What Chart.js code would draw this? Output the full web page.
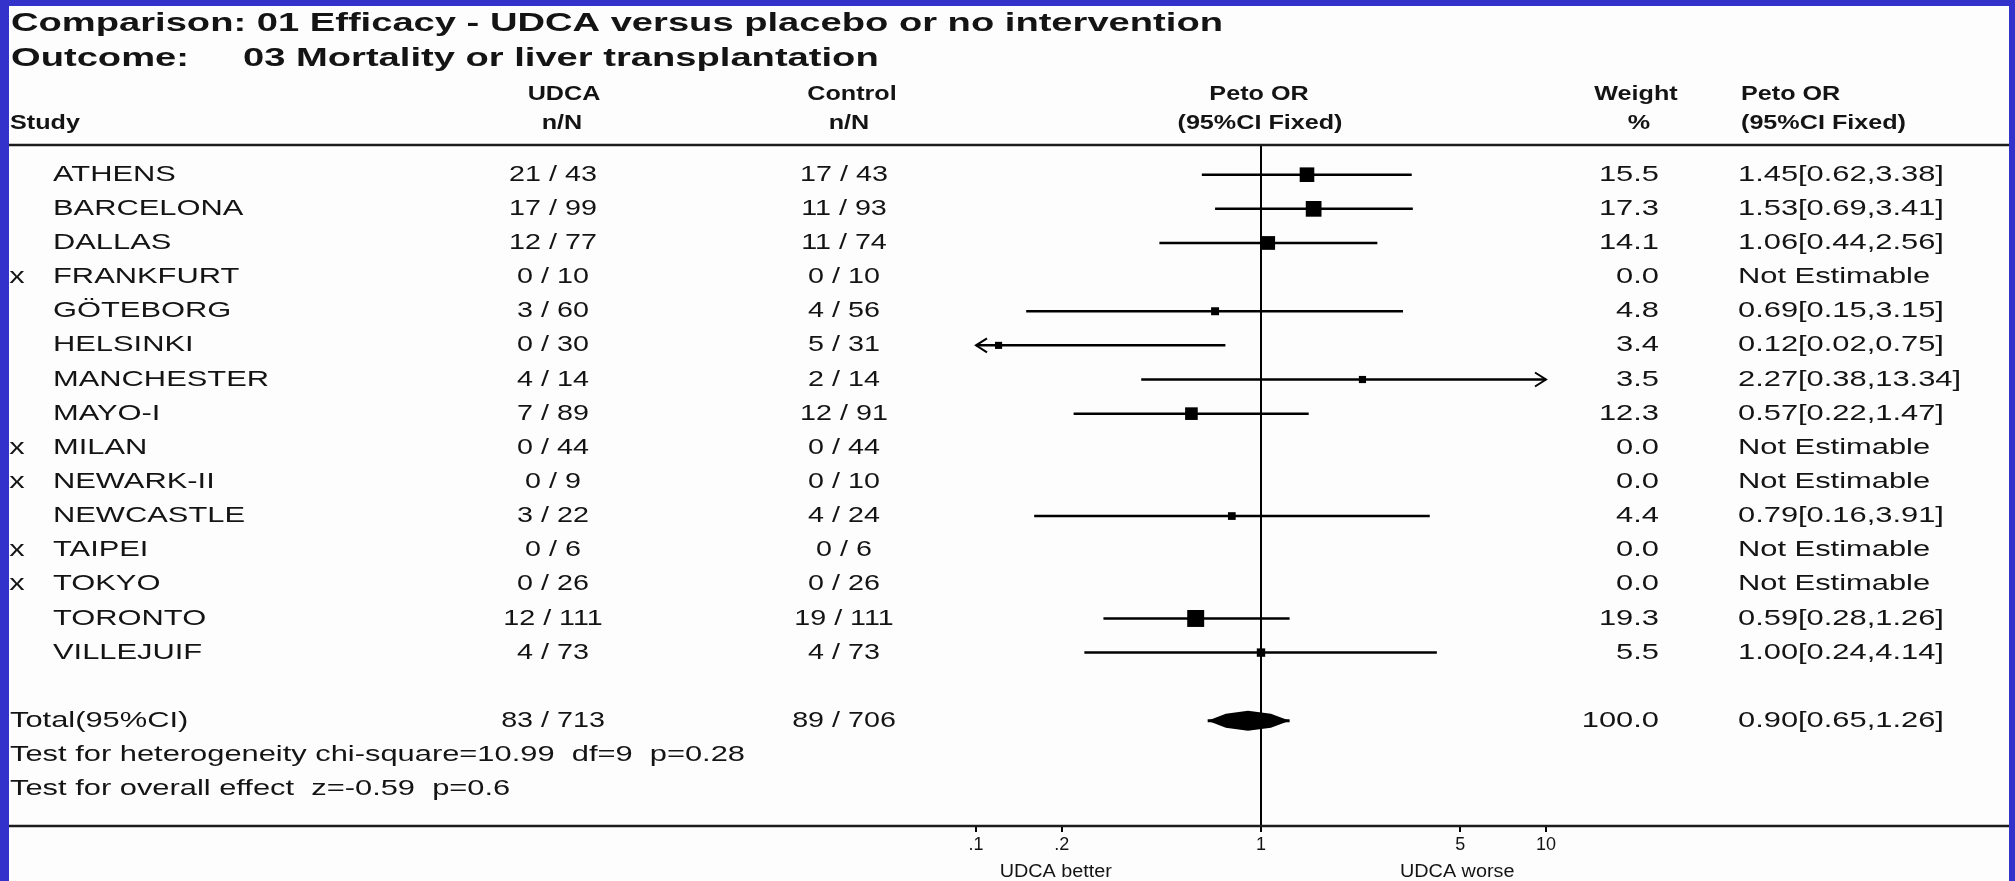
<!DOCTYPE html>
<html>
<head>
<meta charset="utf-8">
<title>UDCA versus placebo – mortality or liver transplantation</title>
<script src="https://cdn.jsdelivr.net/npm/chart.js@4.4.1/dist/chart.umd.min.js"></script>
<style>
  html, body { margin: 0; padding: 0; background: #3333cc; overflow: hidden; }
  canvas { display: block; }
</style>
</head>
<body>
<canvas id="forest" width="2015" height="881"></canvas>
<script>
// ---- study data ----
const studies = ['ATHENS', 'BARCELONA', 'DALLAS', 'FRANKFURT', 'GÖTEBORG', 'HELSINKI', 'MANCHESTER',
  'MAYO-I', 'MILAN', 'NEWARK-II', 'NEWCASTLE', 'TAIPEI', 'TOKYO', 'TORONTO', 'VILLEJUIF'];
const notEstimable = [false, false, false, true, false, false, false, false, true, true, false, true, true, false, false];
const udcaEvents = [21, 17, 12, 0, 3, 0, 4, 7, 0, 0, 3, 0, 0, 12, 4];
const udcaTotals = [43, 99, 77, 10, 60, 30, 14, 89, 44, 9, 22, 6, 26, 111, 73];
const controlEvents = [17, 11, 11, 0, 4, 5, 2, 12, 0, 0, 4, 0, 0, 19, 4];
const controlTotals = [43, 93, 74, 10, 56, 31, 14, 91, 44, 10, 24, 6, 26, 111, 73];
const weights = [15.5, 17.3, 14.1, 0.0, 4.8, 3.4, 3.5, 12.3, 0.0, 0.0, 4.4, 0.0, 0.0, 19.3, 5.5];
const petoOR = [1.45, 1.53, 1.06, null, 0.69, 0.12, 2.27, 0.57, null, null, 0.79, null, null, 0.59, 1.00];
const ciLower = [0.62, 0.69, 0.44, null, 0.15, 0.02, 0.38, 0.22, null, null, 0.16, null, null, 0.28, 0.24];
const ciUpper = [3.38, 3.41, 2.56, null, 3.15, 0.75, 13.34, 1.47, null, null, 3.91, null, null, 1.26, 4.14];

// ---- pooled result ----
const totalUdca = [83, 713];
const totalControl = [89, 706];
const totalWeight = 100.0;
const totalOR = [0.90, 0.65, 1.26]; // estimate, lower, upper
const heterogeneityText = 'Test for heterogeneity chi-square=10.99  df=9  p=0.28';
const overallEffectText = 'Test for overall effect  z=-0.59  p=0.6';

// ---- axis ----
const axisTicks = [0.1, 0.2, 1, 5, 10];
const axisTickLabels = ['.1', '.2', '1', '5', '10'];
const axisRange = [0.1, 10];

// ---- row positions (one row per study, then a gap, then the summary rows) ----
const totalRow = studies.length + 1;
const heterogeneityRow = totalRow + 1;
const overallRow = totalRow + 2;

// ---- fonts / colours ----
const INK = '#141414';
const TITLE_FONT = 'bold 26px "Liberation Sans", Arial, sans-serif';
const HEAD_FONT = 'bold 21px "Liberation Sans", Arial, sans-serif';
const BODY_FONT = '22px "Liberation Sans", Arial, sans-serif';
const AXIS_FONT_SIZE = 18;

function widthOf(ctx, font, str) {
  ctx.save(); ctx.font = font; const w = ctx.measureText(str).width; ctx.restore(); return w;
}
// draws text stretched horizontally by sx (the lettering is wide and low)
function text(ctx, str, x, y, font, align, sx) {
  ctx.save();
  ctx.font = font;
  ctx.fillStyle = INK;
  ctx.textAlign = align || 'left';
  ctx.textBaseline = 'middle';
  ctx.translate(x, y);
  ctx.scale(sx || 1, 1);
  ctx.fillText(str, 0, 0);
  ctx.restore();
}

const fmt2 = v => v.toFixed(2);

// ---- panel background, rules and text columns ----
const tablePlugin = {
  id: 'forestTable',
  beforeDraw(chart) {
    const { ctx, width, height } = chart;
    ctx.save();
    ctx.fillStyle = '#3333cc';
    ctx.fillRect(0, 0, width, height);
    ctx.fillStyle = '#fdfdfd';
    ctx.fillRect(9, 6, 2000, height - 6);
    ctx.restore();
  },
  afterDraw(chart) {
    const { ctx, chartArea } = chart;
    const yS = chart.scales.y;
    const xS = chart.scales.x;

    // horizontal rules below the header and along the axis
    ctx.save();
    ctx.strokeStyle = '#1c1c1c';
    ctx.lineWidth = 2.5;
    ctx.beginPath();
    ctx.moveTo(9, chartArea.top); ctx.lineTo(2009, chartArea.top);
    ctx.moveTo(9, chartArea.bottom); ctx.lineTo(2009, chartArea.bottom);
    ctx.stroke();
    ctx.restore();

    // stretch factors so each text style keeps its line width
    const sTitle = 1212 / widthOf(ctx, TITLE_FONT, 'Comparison: 01 Efficacy - UDCA versus placebo or no intervention');
    const sHead = 165 / widthOf(ctx, HEAD_FONT, '(95%CI Fixed)');
    const sBody = 735 / widthOf(ctx, BODY_FONT, heterogeneityText);
    const sNum = sBody * 0.93;

    // titles
    text(ctx, 'Comparison: 01 Efficacy - UDCA versus placebo or no intervention', 11, 24, TITLE_FONT, 'left', sTitle);
    text(ctx, 'Outcome:', 11, 59, TITLE_FONT, 'left', sTitle);
    text(ctx, '03 Mortality or liver transplantation', 243, 59, TITLE_FONT, 'left', sTitle);

    // column headers
    const h1 = 94, h2 = 123;
    const mid = xS.getPixelForValue(1);
    text(ctx, 'UDCA', 564, h1, HEAD_FONT, 'center', sHead);
    text(ctx, 'Control', 852, h1, HEAD_FONT, 'center', sHead);
    text(ctx, 'Peto OR', mid - 2, h1, HEAD_FONT, 'center', sHead);
    text(ctx, 'Weight', 1636, h1, HEAD_FONT, 'center', sHead);
    text(ctx, 'Peto OR', 1741, h1, HEAD_FONT, 'left', sHead);
    text(ctx, 'Study', 10, h2, HEAD_FONT, 'left', sHead);
    text(ctx, 'n/N', 562, h2, HEAD_FONT, 'center', sHead);
    text(ctx, 'n/N', 849, h2, HEAD_FONT, 'center', sHead);
    text(ctx, '(95%CI Fixed)', mid - 1, h2, HEAD_FONT, 'center', sHead);
    text(ctx, '%', 1639, h2, HEAD_FONT, 'center', sHead);
    text(ctx, '(95%CI Fixed)', 1741, h2, HEAD_FONT, 'left', sHead);

    // study rows
    studies.forEach((name, i) => {
      const y = yS.getPixelForValue(i);
      if (notEstimable[i]) text(ctx, 'x', 17, y, BODY_FONT, 'center', sBody);
      text(ctx, name, 53, y, BODY_FONT, 'left', sBody);
      text(ctx, udcaEvents[i] + ' / ' + udcaTotals[i], 553, y, BODY_FONT, 'center', sNum);
      text(ctx, controlEvents[i] + ' / ' + controlTotals[i], 844, y, BODY_FONT, 'center', sNum);
      text(ctx, weights[i].toFixed(1), 1659, y, BODY_FONT, 'right', sBody);
      const est = petoOR[i] == null ? 'Not Estimable'
        : fmt2(petoOR[i]) + '[' + fmt2(ciLower[i]) + ',' + fmt2(ciUpper[i]) + ']';
      text(ctx, est, 1738, y, BODY_FONT, 'left', sBody);
    });

    // summary rows
    const yt = yS.getPixelForValue(totalRow);
    text(ctx, 'Total(95%CI)', 10, yt, BODY_FONT, 'left', sBody);
    text(ctx, totalUdca[0] + ' / ' + totalUdca[1], 553, yt, BODY_FONT, 'center', sNum);
    text(ctx, totalControl[0] + ' / ' + totalControl[1], 844, yt, BODY_FONT, 'center', sNum);
    text(ctx, totalWeight.toFixed(1), 1659, yt, BODY_FONT, 'right', sBody);
    text(ctx, fmt2(totalOR[0]) + '[' + fmt2(totalOR[1]) + ',' + fmt2(totalOR[2]) + ']', 1738, yt, BODY_FONT, 'left', sBody);
    text(ctx, heterogeneityText, 10, yS.getPixelForValue(heterogeneityRow), BODY_FONT, 'left', sBody);
    text(ctx, overallEffectText, 10, yS.getPixelForValue(overallRow), BODY_FONT, 'left', sBody);

    // direction captions under the axis
    const capFont = AXIS_FONT_SIZE + 'px "Liberation Sans", Arial, sans-serif';
    text(ctx, 'UDCA better', xS.getPixelForValue(0.2) - 6, 872, capFont, 'center', 1.1);
    text(ctx, 'UDCA worse', xS.getPixelForValue(5) - 3, 872, capFont, 'center', 1.1);
  },
  afterDatasetsDraw(chart) {
    const { ctx, chartArea } = chart;
    const xS = chart.scales.x, yS = chart.scales.y;
    ctx.save();
    ctx.strokeStyle = '#000';
    ctx.lineWidth = 2;
    // open arrow heads where an interval runs past the axis range
    studies.forEach((s, i) => {
      if (petoOR[i] == null) return;
      const y = yS.getPixelForValue(i);
      if (ciLower[i] < axisRange[0]) {
        const x = chartArea.left;
        ctx.beginPath(); ctx.moveTo(x + 11, y - 7); ctx.lineTo(x, y); ctx.lineTo(x + 11, y + 7); ctx.stroke();
      }
      if (ciUpper[i] > axisRange[1]) {
        const x = chartArea.right;
        ctx.beginPath(); ctx.moveTo(x - 11, y - 7); ctx.lineTo(x, y); ctx.lineTo(x - 11, y + 7); ctx.stroke();
      }
    });
    // pooled estimate diamond
    const y = yS.getPixelForValue(totalRow);
    const xl = xS.getPixelForValue(totalOR[1]);
    const xm = xS.getPixelForValue(totalOR[0]);
    const xr = xS.getPixelForValue(totalOR[2]);
    ctx.fillStyle = '#000';
    ctx.beginPath();
    ctx.moveTo(xl, y);
    ctx.lineTo(xl + (xm - xl) * 0.45, y - 7);
    ctx.lineTo(xm, y - 10);
    ctx.lineTo(xm + (xr - xm) * 0.55, y - 7);
    ctx.lineTo(xr, y);
    ctx.lineTo(xm + (xr - xm) * 0.55, y + 7);
    ctx.lineTo(xm, y + 10);
    ctx.lineTo(xl + (xm - xl) * 0.45, y + 7);
    ctx.closePath();
    ctx.fill();
    ctx.lineWidth = 3;
    ctx.beginPath(); ctx.moveTo(xl, y); ctx.lineTo(xr, y); ctx.stroke();
    ctx.restore();
  }
};

// ---- datasets: one interval line per study, plus the weighted squares ----
const datasets = [];
studies.forEach((name, i) => {
  if (petoOR[i] == null) return;
  datasets.push({
    type: 'scatter', label: name + ' CI', showLine: true,
    data: [{ x: ciLower[i], y: i }, { x: ciUpper[i], y: i }],
    borderColor: '#000', borderWidth: 2.5, pointRadius: 0
  });
});
const squareRows = studies.map((s, i) => i).filter(i => petoOR[i] != null);
datasets.push({
  type: 'scatter', label: 'Peto OR',
  data: squareRows.map(i => ({ x: petoOR[i], y: i })),
  pointStyle: 'rect',
  // square side grows with the study weight
  pointRadius: squareRows.map(i => (5 + 0.62 * weights[i]) / Math.SQRT2),
  backgroundColor: '#000', borderColor: '#000', borderWidth: 0
});

new Chart(document.getElementById('forest'), {
  type: 'scatter',
  data: { datasets },
  plugins: [tablePlugin],
  options: {
    responsive: false,
    animation: false,
    devicePixelRatio: 1,
    layout: { padding: { left: 976, right: 469, top: 145, bottom: 0 } },
    plugins: { legend: { display: false }, tooltip: { enabled: false } },
    scales: {
      x: {
        type: 'logarithmic',
        min: axisRange[0], max: axisRange[1],
        afterBuildTicks: scale => { scale.ticks = axisTicks.map(v => ({ value: v })); },
        afterFit: scale => { scale.height = 55; },
        ticks: {
          autoSkip: false, maxRotation: 0, padding: 2,
          color: INK,
          font: { family: '"Liberation Sans", Arial, sans-serif', size: AXIS_FONT_SIZE },
          callback: value => axisTickLabels[axisTicks.indexOf(value)]
        },
        grid: {
          color: ctx => (ctx.tick && ctx.tick.value === 1 ? '#000' : 'rgba(0,0,0,0)'),
          lineWidth: 2,
          tickColor: '#000',
          tickLength: 6
        },
        border: { display: false }
      },
      y: {
        type: 'linear', reverse: true,
        min: -0.87, max: 19.08,
        display: false
      }
    }
  }
});
</script>
</body>
</html>
